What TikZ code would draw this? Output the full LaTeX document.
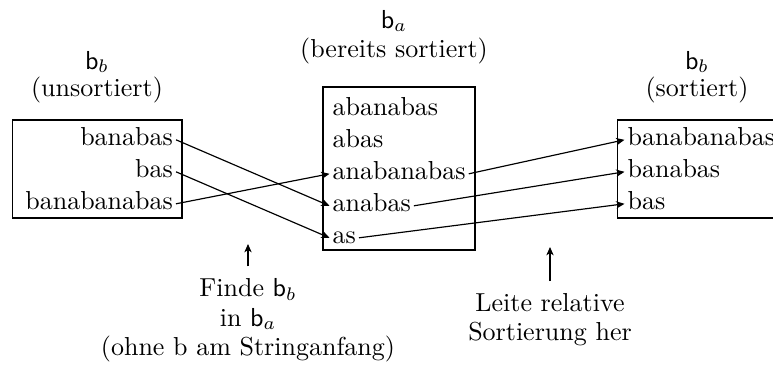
\documentclass[tikz,border=0pt]{standalone}
\usetikzlibrary{arrows.meta}
\begin{document}
\begin{tikzpicture}[x=0.38462pt,y=-0.38462pt,
  entry/.style={inner sep=1pt,text height=4pt,text depth=0pt},
  label/.style={inner sep=0pt},
  box/.style={draw,line width=0.5pt},
  conn/.style={-{Stealth[length=3.2pt,width=2.8pt,inset=0.9pt]},line width=0.45pt},
]
\useasboundingbox (0,0) rectangle (773,364);

% the three boxes
\draw[box] (12.5,120) rectangle (182,218);
\draw[box] (323,87) rectangle (475,250);
\draw[box] (617.5,120) rectangle (790,218);

% titles
\node[label,anchor=base] (lt1) at (97,69) {$\mathsf{b}_b$};
\node[label,anchor=base] (lt2) at (97,96) {(unsortiert)};
\node[label,anchor=base] (mt1) at (394,28) {$\mathsf{b}_a$};
\node[label,anchor=base] (mt2) at (394,57) {(bereits sortiert)};
\node[label,anchor=base] (rt1) at (697,69) {$\mathsf{b}_b$};
\node[label,anchor=base] (rt2) at (697,96) {(sortiert)};

% unsorted b_b
\node[entry,anchor=base east] (l1) at (176,145) {banabas};
\node[entry,anchor=base east] (l2) at (176,177) {bas};
\node[entry,anchor=base east] (l3) at (176,209) {banabanabas};

% already sorted b_a
\node[entry,anchor=base west] (m1) at (329.5,115) {abanabas};
\node[entry,anchor=base west] (m2) at (329.5,147) {abas};
\node[entry,anchor=base west] (m3) at (329.5,179) {anabanabas};
\node[entry,anchor=base west] (m4) at (329.5,211) {anabas};
\node[entry,anchor=base west] (m5) at (329.5,243) {as};

% sorted b_b
\node[entry,anchor=base west] (r1) at (624.5,145) {banabanabas};
\node[entry,anchor=base west] (r2) at (624.5,177) {banabas};
\node[entry,anchor=base west] (r3) at (624.5,209) {bas};

% lookup of b_b in b_a
\draw[conn] (l1.east) -- (m4.west);
\draw[conn] (l2.east) -- (m5.west);
\draw[conn] (l3.east) -- (m3.west);

% derived order
\draw[conn] (m3.east) -- (r1.west);
\draw[conn] (m4.east) -- (r2.west);
\draw[conn] (m5.east) -- (r3.west);

% explanations below
\node[label,anchor=base] (f1) at (248,296.5) {Finde $\mathsf{b}_b$};
\node[label,anchor=base] (f2) at (248,326) {in $\mathsf{b}_a$};
\node[label,anchor=base] (f3) at (248,355.5) {(ohne b am Stringanfang)};
\node[label,anchor=base] (s1) at (550,311) {Leite relative};
\node[label,anchor=base] (s2) at (550,340.5) {Sortierung her};

\coordinate (fh) at (248,244);
\coordinate (sh) at (550,247);
\draw[conn,shorten <=4.4pt] (f1.north) -- (fh);
\draw[conn,shorten <=4.4pt] (s1.north) -- (sh);
\end{tikzpicture}
\end{document}
